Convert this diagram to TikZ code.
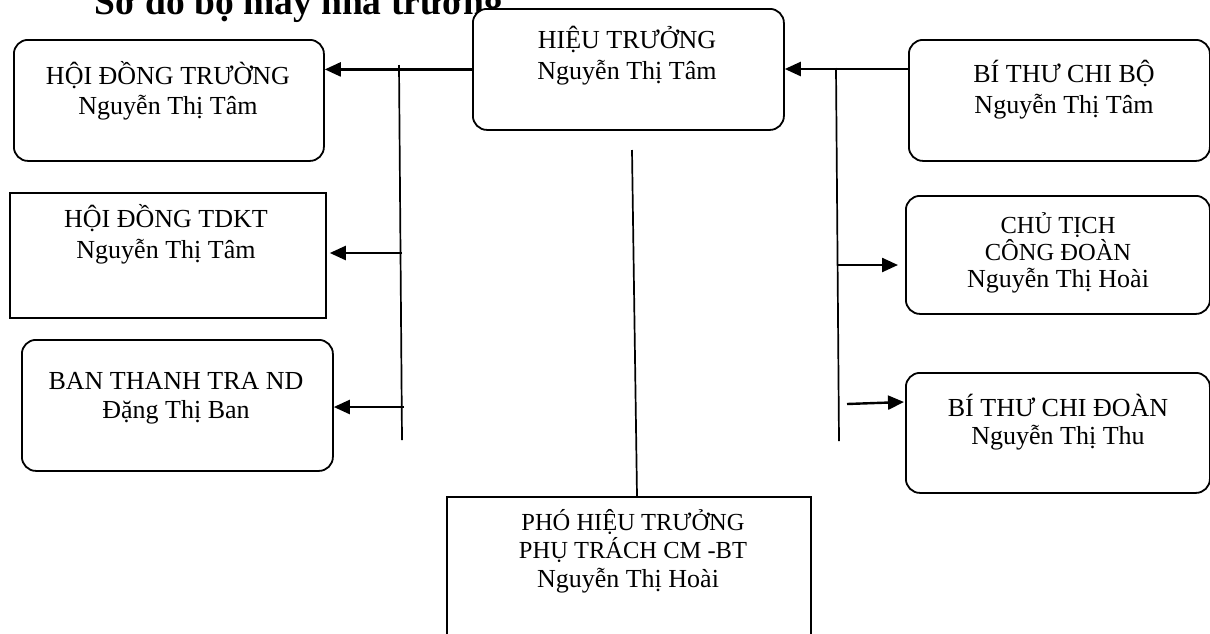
\documentclass[tikz,border=0pt]{standalone}
\usepackage{fontspec}
\setmainfont{Liberation Serif}
\usetikzlibrary{arrows.meta}
\begin{document}
\begin{tikzpicture}[x=1pt,y=-1pt,
  rbox/.style={draw, line width=1.8pt, rounded corners=14pt, inner sep=0pt, fill=white, anchor=north west},
  sbox/.style={draw, line width=1.8pt, inner sep=0pt, fill=white, anchor=north west},
  txt/.style={align=center, inner sep=0pt, anchor=north, yshift=30pt, font=\fontsize{26}{31}\selectfont},
  titletxt/.style={inner sep=0pt, anchor=base west, font=\fontsize{37.5}{40}\selectfont\bfseries},
  conn/.style={line width=1.7pt},
  arr/.style={line width=2.4pt, -{Triangle[length=16pt,width=14pt]}},
]
\useasboundingbox (0,0) rectangle (1210,633);
\newcommand{\fl}{\rule{0pt}{30pt}}
\newcommand{\sm}{\fontsize{24.5}{28}\selectfont}

% title (partly hidden above the page and behind the top box)
\node[titletxt] (title) at (94,14) {Sơ đồ bộ máy nhà trường};

% boxes
\node[rbox, minimum width=311pt, minimum height=121pt] (hieu) at (472,8) {};
\node[rbox, minimum width=310pt, minimum height=121pt] (hdt) at (13,39) {};
\node[sbox, minimum width=316pt, minimum height=125pt] (tdkt) at (9,192) {};
\node[rbox, minimum width=311pt, minimum height=131pt] (bttra) at (21,339) {};
\node[rbox, minimum width=301pt, minimum height=121pt] (btcb) at (908,39) {};
\node[rbox, minimum width=304pt, minimum height=118pt] (ctcd) at (905,195) {};
\node[rbox, minimum width=304pt, minimum height=120pt] (btcd) at (905,372) {};
\node[sbox, minimum width=364pt, minimum height=150pt] (pht) at (446,496) {};

% texts
\node[txt] (hieuT) at (627,48) {\fl HIỆU TRƯỞNG\\Nguyễn Thị Tâm};
\node[txt, font=\fontsize{26}{30}\selectfont] (hdtT) at (168,84) {\fl HỘI ĐỒNG TRƯỜNG\\Nguyễn Thị Tâm};
\node[txt] (tdktT) at (166,227) {\fl HỘI ĐỒNG TDKT\\Nguyễn Thị Tâm};
\node[txt, font=\fontsize{26}{29}\selectfont] (bttraT) at (176,389) {\fl BAN THANH TRA ND\\Đặng Thị Ban};
\node[txt] (btcbT) at (1064,82) {\fl BÍ THƯ CHI BỘ\\Nguyễn Thị Tâm};
\node[txt, font=\fontsize{26}{27}\selectfont] (ctcdT) at (1058,233) {\fl{\sm CHỦ TỊCH}\\{\sm CÔNG ĐOÀN}\\Nguyễn Thị Hoài};
\node[txt, font=\fontsize{26}{28}\selectfont] (btcdT) at (1058,416) {\fl BÍ THƯ CHI ĐOÀN\\Nguyễn Thị Thu};
\node[txt, font=\fontsize{26}{28.5}\selectfont] (phtT) at (633,530) {\fl{\sm PHÓ HIỆU TRƯỞNG}\\{\sm PHỤ TRÁCH CM -BT}\\Nguyễn Thị Hoài\hspace*{10pt}};

% left side
\coordinate (lb1) at (399,65);
\coordinate (lb2) at (402,440);
\draw[conn] (lb1) -- (lb2);
\draw[arr] (hieu.west) -- (hieu.west -| hdt.east);
\coordinate (ls2) at (402,253);
\draw[arr, shorten >=3pt] (ls2) -- (ls2 -| tdkt.east);
\coordinate (ls3) at (404,407);
\draw[arr] (ls3) -- (ls3 -| bttra.east);

% right side
\coordinate (rb1) at (836,68);
\coordinate (rb2) at (839,441);
\draw[conn] (rb1) -- (rb2);
\coordinate (rj) at (908,69);
\draw[arr] (rj) -- (rj -| hieu.east);
\coordinate (rs2) at (837,265);
\draw[arr, shorten >=7pt] (rs2) -- (rs2 -| ctcd.west);
\coordinate (rs3) at (847,404);
\coordinate (rt3) at (904,402);
\draw[arr] (rs3) -- (rt3);

% middle
\coordinate (m1) at (632,150);
\coordinate (m2) at (637,496);
\draw[conn] (m1) -- (m2);
\end{tikzpicture}
\end{document}
